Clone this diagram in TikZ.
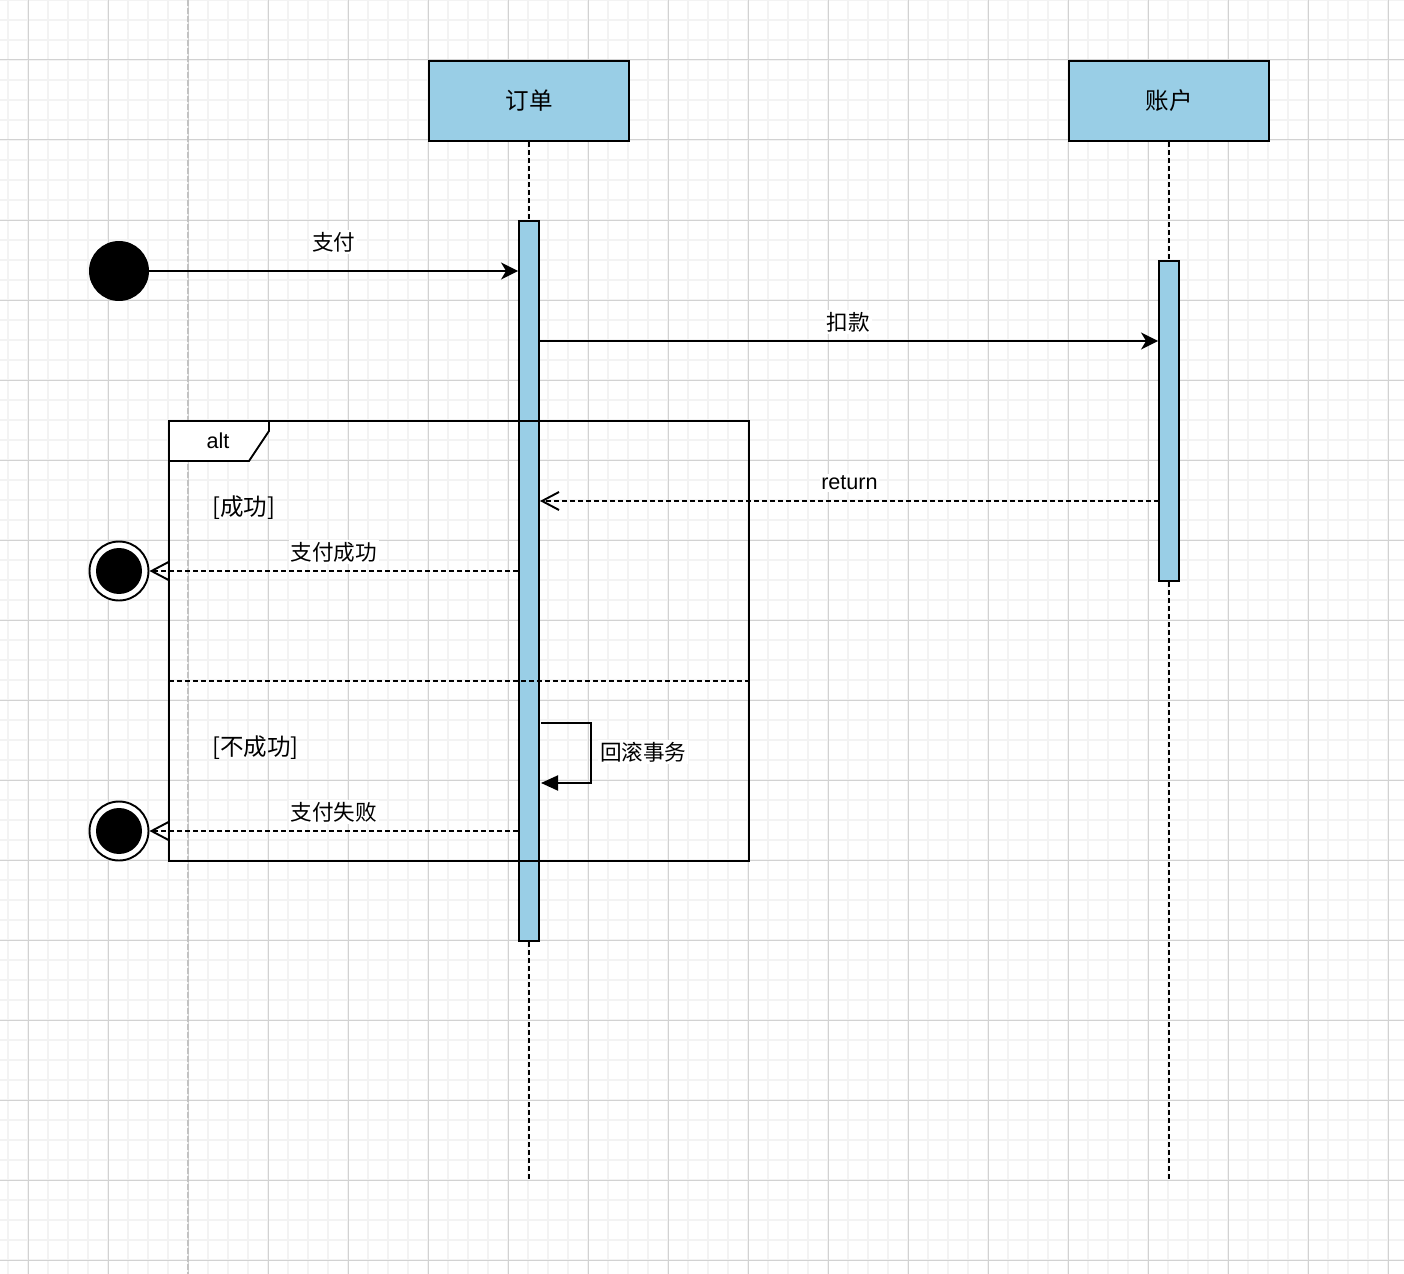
\documentclass[tikz,border=0pt]{standalone}
\usepackage{fontspec}
\setmainfont{Liberation Sans}
\newfontfamily\cjk{Noto Sans CJK SC}
\usetikzlibrary{arrows.meta,positioning,calc}
\definecolor{lifeblue}{RGB}{153,206,230}
\definecolor{gridminor}{RGB}{243,243,243}
\definecolor{gridmajor}{RGB}{210,210,210}
\definecolor{pagegray}{RGB}{195,195,195}
\newcommand{\msgsize}{\fontsize{12.3}{15}\selectfont}
\newcommand{\headsize}{\fontsize{13.4}{16}\selectfont}
\tikzset{
  solidarrow/.style={-{Stealth[length=3.4mm,width=3.4mm,inset=1mm]}, line width=1.1pt},
  replyarrow/.style={-{Straight Barb[length=3.4mm,width=3.6mm]}, line width=1.1pt, dash pattern=on 1mm off .6mm},
  lifeline/.style={line width=1.1pt, dash pattern=on 1mm off .6mm},
  head/.style={draw, line width=1.1pt, fill=lifeblue, minimum width=4cm, minimum height=1.6cm, font=\cjk\headsize},
  activation/.style={draw, line width=1.1pt, fill=lifeblue, minimum width=4mm, inner sep=0pt},
  msglabel/.style={fill=white, inner sep=1pt, font=\cjk\msgsize},
  guard/.style={inner sep=0pt, anchor=west, font=\cjk\headsize},
  initial/.style={circle, fill=black, minimum size=1.2cm, inner sep=0pt},
  final/.style={circle, draw, line width=1.1pt, fill=white, minimum size=1.18cm, inner sep=0pt,
    path picture={\fill[black] (path picture bounding box.center) circle (0.46cm);}}
}

\begin{document}
\begin{tikzpicture}[x=0.02cm,y=-0.02cm]
  \useasboundingbox (0,0) rectangle (1404,1274);

  % Editor grid and page break.
  \foreach \gx in {8,28,...,1388} \draw[gridminor, line width=0.04cm] (\gx,0) -- (\gx,1274);
  \foreach \gy in {0,20,...,1260} \draw[gridminor, line width=0.04cm] (0,\gy) -- (1404,\gy);
  \foreach \gx in {28,108,...,1388} \draw[gridmajor, line width=0.02cm] (\gx,0) -- (\gx,1274);
  \foreach \gy in {60,140,...,1260} \draw[gridmajor, line width=0.02cm] (0,\gy) -- (1404,\gy);
  \draw[pagegray, line width=0.04cm, dash pattern=on 0.12cm off 0.04cm] (188,0) -- (188,1274);

  % Lifelines.
  \node[head] (order) at (529,101) {订单};
  \node[head] (account) at (1169,101) {账户};
  \coordinate (orderend) at (529,1180);
  \coordinate (accountend) at (1169,1180);
  \draw[lifeline] (order) -- (orderend);
  \draw[lifeline] (account) -- (accountend);
  \node[activation, minimum height=14.4cm] (orderact) at (529,581) {};
  \node[activation, minimum height=6.4cm] (accountact) at (1169,421) {};

  % Payment and debit.
  \node[initial] (start) at (119,271) {};
  \draw[solidarrow] (start) -- node[msglabel, yshift=0.58cm] {支付} (start -| orderact.west);
  \coordinate (debit) at (539,341);
  \draw[solidarrow] (debit) -- node[msglabel, yshift=0.38cm] {扣款} (debit -| accountact.west);
  \coordinate (reply) at (1159,501);
  \draw[replyarrow] (reply) -- node[msglabel, yshift=0.36cm, font=\msgsize] {return} (reply -| orderact.east);

  % alt fragment.
  \node[draw, line width=1.1pt, minimum width=11.6cm, minimum height=8.8cm, inner sep=0pt, outer sep=0pt, anchor=north west] (altframe) at (169,421) {};
  \draw[line width=1.1pt, fill=white] (altframe.north west) -- ++(100,0) -- ++(0,10) -- ++(-20,30) -- ++(-80,0) -- cycle;
  \node[font=\msgsize] (altlabel) at (218,441) {alt};
  \coordinate (split) at (169,681);
  \draw[lifeline] (split) -- (split -| altframe.east);
  \node[guard] (okguard) at (212,508) {[成功]};
  \node[guard] (failguard) at (212,748) {[不成功]};

  % Outcomes.
  \node[final] (endok) at (119,571) {};
  \draw[replyarrow] (endok -| orderact.west) -- node[msglabel, yshift=0.38cm] {支付成功} (endok);
  \coordinate (rollstart) at (541,723);
  \draw[line width=1.1pt, -{Triangle[length=3.4mm,width=3mm]}] (rollstart) -- ++(50,0) -- ++(0,60) -- ++(-50,0);
  \node[msglabel, anchor=west] (rollback) at (598,752) {回滚事务};
  \node[final] (endfail) at (119,831) {};
  \draw[replyarrow] (endfail -| orderact.west) -- node[msglabel, yshift=0.38cm] {支付失败} (endfail);
\end{tikzpicture}
\end{document}
